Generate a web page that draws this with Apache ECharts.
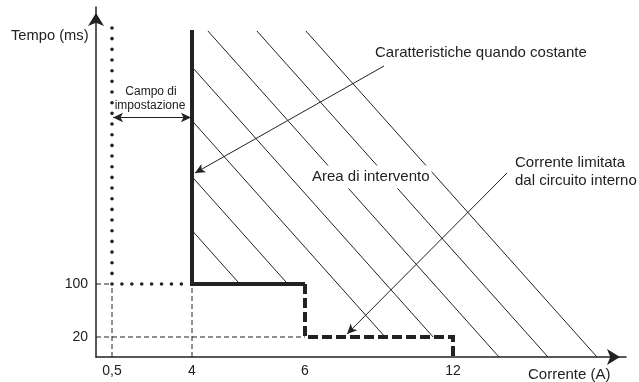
<!DOCTYPE html>
<html>
<head>
<meta charset="utf-8">
<script src="https://cdn.jsdelivr.net/npm/echarts@6/dist/echarts.min.js"></script>
<style>
  html, body { margin: 0; padding: 0; background: #ffffff; }
  #chart { width: 639px; height: 382px; }
</style>
</head>
<body>
<div id="chart"></div>
<script>
// The drawing is a schematic (not to scale): positions are in schematic axis units.
const xTickPos = [3.2, 19.2, 41.8, 71.4];
const xTickLabels = ['0,5', '4', '6', '12'];
const yTickPos = [4.0, 14.6];
const yTickLabels = ['20', '100'];

// Trip characteristic boundary (solid = constant, dashed = internally limited current)
const stepSolid = [[19.2, 65.4], [19.2, 14.6], [41.8, 14.6]];
const stepDashed = [[41.8, 14.6], [41.8, 4.0], [71.4, 4.0], [71.4, 0]];
// Setting range limit (dotted)
const settingDotV = [[3.2, 65.8], [3.2, 14.6]];
const settingDotH = [[3.2, 14.6], [17.1, 14.6]];

// Hatched trip area: lines given by their x-axis intercepts and slope
const hatchIntercepts = [41.8, 51.4, 61.4, 71.0, 80.6, 90.4, 100.2];
const hatchSlope = 1.12;
const hatchTop = 65.2;

// Annotation arrows [from, to]
const arrowCaratt = [[57.6, 58.2], [19.8, 36.8]];
const arrowCorrente = [[82.2, 36.8], [50.2, 4.6]];
const arrowCampo = [[3.4, 47.9], [19.0, 47.9]];

const INK = '#222222';
const FONT = '"Liberation Sans", Arial, Helvetica, sans-serif';

// Build hatch segments clipped to the area above the boundary
const boundary = stepSolid.concat(stepDashed.slice(1));
function hatchSegment(xint) {
  const xAt = y => xint - y / hatchSlope;
  const xLeft = boundary[0][0];
  let yUp = Math.min(hatchTop, (xint - xLeft) * hatchSlope);
  let yLow = -Infinity;
  for (let i = 1; i < boundary.length - 1; i++) {
    const p = boundary[i], q = boundary[i + 1];
    const fp = p[0] - xAt(p[1]), fq = q[0] - xAt(q[1]);
    if ((fp <= 0 && fq >= 0) || (fp >= 0 && fq <= 0)) {
      const t = (fp === fq) ? 0 : fp / (fp - fq);
      const y = p[1] + t * (q[1] - p[1]);
      if (y > yLow) yLow = y;
    }
  }
  if (yLow === -Infinity) yLow = 0; // reaches the x axis
  return [[xAt(yUp), yUp], [xAt(yLow), yLow]];
}

const series = [];
hatchIntercepts.forEach(xi => {
  series.push({
    type: 'line', data: hatchSegment(xi), showSymbol: false, silent: true,
    lineStyle: { color: INK, width: 1 }, z: 2
  });
});

// Thin dashed guides from ticks
const guides = [
  [[xTickPos[0], 0], [xTickPos[0], yTickPos[1]]],
  [[xTickPos[1], 0], [xTickPos[1], yTickPos[1]]],
  [[0, yTickPos[1]], [xTickPos[0], yTickPos[1]]],
  [[0, yTickPos[0]], [xTickPos[2], yTickPos[0]]]
];
guides.forEach(g => {
  series.push({
    type: 'line', data: g, showSymbol: false, silent: true,
    lineStyle: { color: INK, width: 1, type: [5, 3] }, z: 1
  });
});

series.push({
  type: 'line', data: settingDotV, showSymbol: false, silent: true,
  lineStyle: { color: INK, width: 3.6, type: [0.01, 10.66], cap: 'round' }, z: 3
});
series.push({
  type: 'line', data: settingDotH, showSymbol: false, silent: true,
  lineStyle: { color: INK, width: 3.6, type: [0.01, 9.9], cap: 'round' }, z: 3
});

series.push({
  type: 'line', data: stepSolid, showSymbol: false, silent: true,
  lineStyle: { color: INK, width: 4, join: 'miter', cap: 'butt' }, z: 4
});
series.push({
  type: 'line', data: stepDashed, showSymbol: false, silent: true,
  lineStyle: { color: INK, width: 4, type: [10, 4], join: 'miter' }, z: 4
});

// Annotation arrows
series.push({
  type: 'line', data: [], silent: true,
  markLine: {
    silent: true, animation: false,
    label: { show: false },
    lineStyle: { color: INK, width: 1, type: 'solid' },
    symbolSize: [7, 10],
    data: [
      [{ coord: arrowCaratt[0], symbol: 'none' }, { coord: arrowCaratt[1], symbol: 'arrow' }],
      [{ coord: arrowCorrente[0], symbol: 'none' }, { coord: arrowCorrente[1], symbol: 'arrow' }],
      [{ coord: arrowCampo[0], symbol: 'arrow' }, { coord: arrowCampo[1], symbol: 'arrow' }]
    ]
  }
});

function labelFor(v, pos, labels) {
  let best = 0;
  for (let i = 1; i < pos.length; i++) if (Math.abs(pos[i] - v) < Math.abs(pos[best] - v)) best = i;
  return labels[best];
}

const txt = (text, x, y, size, align, bg) => ({
  type: 'text', x: x, y: y, silent: true, z: 10,
  style: Object.assign(
    { text: text, fill: INK, font: size + 'px ' + FONT, textAlign: align || 'left', textVerticalAlign: 'middle' },
    bg ? { backgroundColor: '#ffffff', padding: [4, 2, 4, 2] } : {}
  )
});

const option = {
  animation: false,
  backgroundColor: '#ffffff',
  grid: { left: 96, top: 7, width: 530, height: 350, containLabel: false, outerBoundsMode: 'none' },
  xAxis: {
    type: 'value', min: 0, max: 106,
    axisLine: { show: true, lineStyle: { color: INK, width: 1.5 }, symbol: ['none', 'arrow'], symbolSize: [12, 13], symbolOffset: [0, -6] },
    axisTick: { show: false },
    splitLine: { show: false },
    axisLabel: {
      customValues: xTickPos, margin: 7, color: INK, fontSize: 14, fontFamily: FONT,
      formatter: v => labelFor(v, xTickPos, xTickLabels)
    }
  },
  yAxis: {
    type: 'value', min: 0, max: 70,
    axisLine: { show: true, lineStyle: { color: INK, width: 1.5 }, symbol: ['none', 'arrow'], symbolSize: [12, 13], symbolOffset: [0, -6] },
    axisTick: { show: false },
    splitLine: { show: false },
    axisLabel: {
      customValues: yTickPos, margin: 8, color: INK, fontSize: 14, fontFamily: FONT,
      formatter: v => labelFor(v, yTickPos, yTickLabels)
    }
  },
  graphic: [
    txt('Tempo (ms)', 11, 36, 14.7),
    txt('Corrente (A)', 528, 375, 15),
    txt('Caratteristiche quando costante', 375, 53, 15),
    txt('Area di intervento', 310, 177, 15, 'left', true),
    txt('Corrente limitata', 515, 163, 15),
    txt('dal circuito interno', 515, 181, 15),
    txt('Campo di', 151, 92, 12, 'center'),
    txt('impostazione', 150, 106, 12, 'center')
  ],
  series: series
};

const chart = echarts.init(document.getElementById('chart'), null, { renderer: 'canvas' });
chart.setOption(option);
</script>
</body>
</html>
